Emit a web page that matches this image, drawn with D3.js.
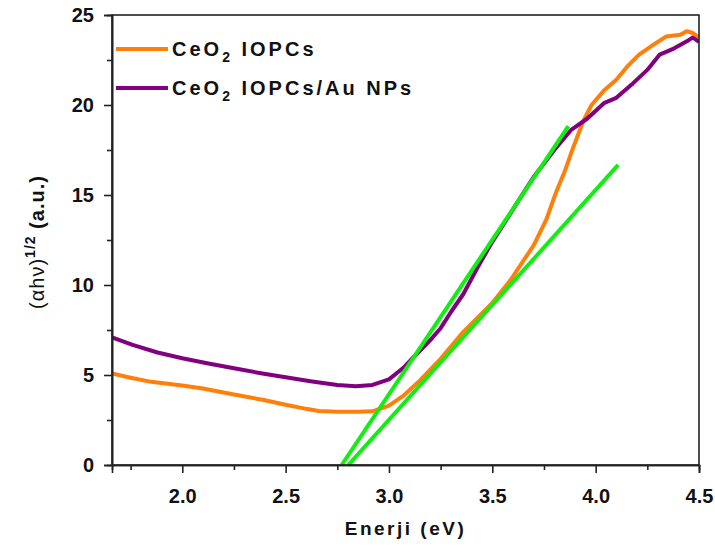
<!DOCTYPE html>
<html>
<head>
<meta charset="utf-8">
<script src="https://cdn.jsdelivr.net/npm/d3@7"></script>
<style>
  html, body { margin: 0; padding: 0; background: #fff; }
  svg text { font-family: "Liberation Sans", Arial, sans-serif; font-weight: bold; fill: #111; }
</style>
</head>
<body>
<svg id="chart" width="715" height="555"></svg>
<script>
// Photon energy (eV) and Tauc values for each sample
const energyCeO2 = [1.66, 1.75, 1.85, 2.0, 2.1, 2.25, 2.4, 2.5, 2.6, 2.66, 2.75, 2.85, 2.92, 3.0, 3.07, 3.15, 3.25, 3.36, 3.5, 3.59, 3.63, 3.7, 3.76, 3.81, 3.85, 3.89, 3.94, 3.98, 4.04, 4.1, 4.15, 4.21, 4.28, 4.34, 4.41, 4.44, 4.47, 4.5];
const valuesCeO2 = [5.08, 4.85, 4.62, 4.42, 4.25, 3.92, 3.6, 3.35, 3.12, 3.0, 2.96, 2.96, 2.98, 3.3, 3.85, 4.7, 5.9, 7.4, 9.0, 10.3, 11.0, 12.2, 13.6, 15.2, 16.3, 17.6, 19.1, 20.0, 20.8, 21.4, 22.1, 22.8, 23.35, 23.8, 23.9, 24.1, 24.0, 23.75];

const energyCeO2Au = [1.66, 1.76, 1.88, 2.0, 2.12, 2.25, 2.38, 2.5, 2.62, 2.75, 2.84, 2.92, 3.0, 3.07, 3.12, 3.2, 3.25, 3.3, 3.36, 3.43, 3.5, 3.55, 3.6, 3.65, 3.7, 3.8, 3.88, 3.96, 4.04, 4.1, 4.18, 4.25, 4.31, 4.38, 4.45, 4.47, 4.5];
const valuesCeO2Au = [7.09, 6.67, 6.25, 5.93, 5.65, 5.37, 5.1, 4.87, 4.65, 4.44, 4.38, 4.45, 4.76, 5.4, 6.0, 6.94, 7.6, 8.5, 9.5, 11.0, 12.4, 13.3, 14.2, 15.1, 16.0, 17.5, 18.6, 19.25, 20.1, 20.4, 21.2, 21.95, 22.8, 23.15, 23.6, 23.75, 23.5];

// Linear fits of the absorption edges (start and end points)
const fitCeO2Au = { x: [2.771, 3.868], y: [0, 18.83] };
const fitCeO2 = { x: [2.803, 4.109], y: [0, 16.67] };

const xTicks = [2.0, 2.5, 3.0, 3.5, 4.0, 4.5];
const xMinorTicks = [1.75, 2.25, 2.75, 3.25, 3.75, 4.25];
const yTicks = [0, 5, 10, 15, 20, 25];
const yMinorTicks = [2.5, 7.5, 12.5, 17.5, 22.5];

const colorCeO2 = "#ff7f0a";
const colorCeO2Au = "#800080";
const colorFit = "#11ee11";

const svg = d3.select("#chart");
const plot = { left: 112, right: 699, top: 15, bottom: 465 };

const x = d3.scaleLinear().domain([1.66, 4.5]).range([plot.left, plot.right]);
const y = d3.scaleLinear().domain([0, 25]).range([plot.bottom, plot.top]);

svg.append("clipPath").attr("id", "plotClip")
  .append("rect")
  .attr("x", plot.left).attr("y", plot.top)
  .attr("width", plot.right - plot.left).attr("height", plot.bottom - plot.top);

const g = svg.append("g").attr("clip-path", "url(#plotClip)");

const line = d3.line().x(d => x(d[0])).y(d => y(d[1]));

const seriesCeO2 = energyCeO2.map((e, i) => [e, valuesCeO2[i]]);
const seriesCeO2Au = energyCeO2Au.map((e, i) => [e, valuesCeO2Au[i]]);

g.append("path").datum(seriesCeO2)
  .attr("d", line).attr("fill", "none")
  .attr("stroke", colorCeO2).attr("stroke-width", 4).attr("stroke-linejoin", "round");

g.append("path").datum(seriesCeO2Au)
  .attr("d", line).attr("fill", "none")
  .attr("stroke", colorCeO2Au).attr("stroke-width", 4).attr("stroke-linejoin", "round");

[fitCeO2Au, fitCeO2].forEach(f => {
  g.append("path").datum(f.x.map((v, i) => [v, f.y[i]]))
    .attr("d", line).attr("fill", "none")
    .attr("stroke", colorFit).attr("stroke-width", 4);
});

// Frame
svg.append("rect")
  .attr("x", plot.left).attr("y", plot.top)
  .attr("width", plot.right - plot.left).attr("height", plot.bottom - plot.top)
  .attr("fill", "none").attr("stroke", "#222").attr("stroke-width", 1.6);

// Bottom axis
const xAxis = svg.append("g").attr("transform", `translate(0,${plot.bottom})`)
  .call(d3.axisBottom(x).tickValues(xTicks).tickFormat(d3.format(".1f")).tickSize(8).tickPadding(16));
const xMinor = svg.append("g").attr("transform", `translate(0,${plot.bottom})`)
  .call(d3.axisBottom(x).tickValues(xMinorTicks).tickFormat("").tickSize(5));

// Left axis
const yAxis = svg.append("g").attr("transform", `translate(${plot.left},0)`)
  .call(d3.axisLeft(y).tickValues(yTicks).tickFormat(d3.format("d")).tickSize(8).tickPadding(10));
const yMinor = svg.append("g").attr("transform", `translate(${plot.left},0)`)
  .call(d3.axisLeft(y).tickValues(yMinorTicks).tickFormat("").tickSize(5));

[xAxis, xMinor, yAxis, yMinor].forEach(a => {
  a.select(".domain").attr("stroke", "#222").attr("stroke-width", 1.6);
  a.selectAll(".tick line").attr("stroke", "#222").attr("stroke-width", 1.6);
  a.selectAll("text").style("font-size", "20px").attr("fill", "#111");
});

// Axis titles
svg.append("text")
  .attr("x", (plot.left + plot.right) / 2).attr("y", 535)
  .attr("text-anchor", "middle")
  .style("font-size", "19px").style("letter-spacing", "2.5px")
  .text("Enerji (eV)");

const yTitle = svg.append("text")
  .attr("transform", "translate(44,242) rotate(-90)")
  .attr("text-anchor", "middle")
  .style("font-size", "20px").style("letter-spacing", "1px");
yTitle.append("tspan").style("font-weight", "normal").text("(\u03B1h\u03BD)");
yTitle.append("tspan").attr("dy", -9).style("font-size", "14px").text("1/2");
yTitle.append("tspan").attr("dy", 9).text(" (a.u.)");

// Legend
const legend = [
  { color: colorCeO2, rest: " IOPCs", y: 49 },
  { color: colorCeO2Au, rest: " IOPCs/Au NPs", y: 88 }
];
legend.forEach(item => {
  svg.append("line")
    .attr("x1", 116).attr("x2", 168).attr("y1", item.y).attr("y2", item.y)
    .attr("stroke", item.color).attr("stroke-width", 4);
  const t = svg.append("text")
    .attr("x", 172).attr("y", item.y + 7)
    .style("font-size", "20px").style("letter-spacing", "3px");
  t.append("tspan").text("CeO");
  t.append("tspan").attr("dy", 6).style("font-size", "14px").text("2");
  t.append("tspan").attr("dy", -6).text(item.rest);
});
</script>
</body>
</html>
